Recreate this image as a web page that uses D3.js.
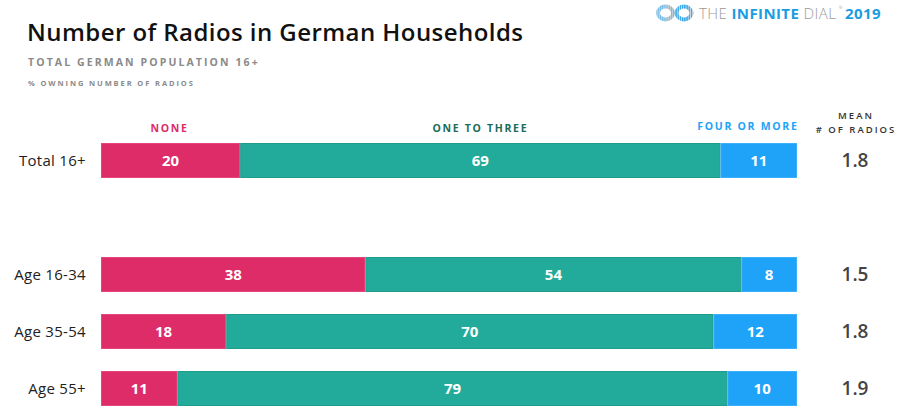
<!DOCTYPE html>
<html><head><meta charset="utf-8">
<script src="https://cdn.jsdelivr.net/npm/d3@7"></script>
<style>body{margin:0;background:#fff}svg{display:block}text{font-family:"Open Sans",sans-serif}</style>
</head><body>
<script>
const groups = ["Total 16+", "Age 16-34", "Age 35-54", "Age 55+"];
const seriesNames = ["NONE", "ONE TO THREE", "FOUR OR MORE"];
const none = [20, 38, 18, 11];
const oneToThree = [69, 54, 70, 79];
const fourOrMore = [11, 8, 12, 10];
const means = ["1.8", "1.5", "1.8", "1.9"];

const W = 900, H = 417;
const svg = d3.select("body").append("svg").attr("width", W).attr("height", H);

const colors = ["#de2c68", "#22ab9a", "#1ea3f8"];
const strokes = ["#e8457d", "#1f9c8c", "#3ab0fa"];
const headColors = ["#de2c68", "#1a6b5a", "#1ea3f8"];

const x = d3.scaleLinear().domain([0, 100]).range([101, 797]);
const yPos = [143, 257, 314, 371];
const barH = 35;

// Title
svg.append("text").attr("x", 27).attr("y", 41).attr("font-size", 24).attr("font-weight", 600)
  .attr("fill", "#111").text("Number of Radios in German Households").attr("textLength", 496);
svg.append("text").attr("x", 28).attr("y", 66).attr("font-size", 10.5).attr("font-weight", 700)
  .attr("fill", "#8a8a8a").attr("letter-spacing", 2.1).text("TOTAL GERMAN POPULATION 16+");
svg.append("text").attr("x", 28).attr("y", 86).attr("font-size", 7.5).attr("font-weight", 700)
  .attr("fill", "#8a8a8a").attr("letter-spacing", 1.9).text("% OWNING NUMBER OF RADIOS");

// Logo
const defs = svg.append("defs");
const pg = defs.append("pattern").attr("id", "stripeL").attr("patternUnits", "userSpaceOnUse")
  .attr("width", 2.2).attr("height", 30);
pg.append("rect").attr("width", 2.2).attr("height", 30).attr("fill", "#c9cfd3");
pg.append("rect").attr("width", 1).attr("height", 30).attr("fill", "#6cbdee");
const pb = defs.append("pattern").attr("id", "stripeR").attr("patternUnits", "userSpaceOnUse")
  .attr("width", 2.2).attr("height", 30);
pb.append("rect").attr("width", 2.2).attr("height", 30).attr("fill", "#d6dde2");
pb.append("rect").attr("width", 1.3).attr("height", 30).attr("fill", "#2fa6ec");
svg.append("ellipse").attr("cx", 665.5).attr("cy", 13).attr("rx", 7.5).attr("ry", 6.5)
  .attr("fill", "none").attr("stroke", "url(#stripeL)").attr("stroke-width", 4);
svg.append("ellipse").attr("cx", 684).attr("cy", 13).attr("rx", 7.5).attr("ry", 6.5)
  .attr("fill", "none").attr("stroke", "url(#stripeR)").attr("stroke-width", 4);
const lt = svg.append("text").attr("x", 699).attr("y", 19).attr("font-size", 15).attr("letter-spacing", 0.4);
lt.append("tspan").attr("fill", "#9a9a9a").attr("font-weight", 300).text("THE ");
lt.append("tspan").attr("fill", "#1a9de0").attr("font-weight", 700).text("INFINITE ");
lt.append("tspan").attr("fill", "#9a9a9a").attr("font-weight", 300).text("DIAL");
svg.append("text").attr("x", 839).attr("y", 9).attr("font-size", 4).attr("fill", "#9a9a9a").text("®");
svg.append("text").attr("x", 845).attr("y", 19).attr("font-size", 15).attr("font-weight", 700)
  .attr("letter-spacing", 0.4).attr("fill", "#1a9de0").text("2019");

// series headers
const totalStack = [none[0], oneToThree[0], fourOrMore[0]];
let cum = 0;
const headX = [];
totalStack.forEach((v) => { headX.push([x(cum), x(cum + v)]); cum += v; });
const hdr = (xx, yy, anchor, i) => svg.append("text").attr("x", xx).attr("y", yy).attr("text-anchor", anchor)
  .attr("font-size", 10.5).attr("font-weight", 700).attr("letter-spacing", 1.7).attr("fill", headColors[i]).text(seriesNames[i]);
hdr((headX[0][0] + headX[0][1]) / 2 - 1, 132, "middle", 0);
hdr((headX[1][0] + headX[1][1]) / 2, 132, "middle", 1);
hdr(x(100) + 1.5, 130, "end", 2);

// mean header
svg.append("text").attr("x", 856).attr("y", 119).attr("text-anchor", "middle").attr("font-size", 9.5)
  .attr("font-weight", 600).attr("letter-spacing", 2).attr("fill", "#333").text("MEAN");
svg.append("text").attr("x", 856).attr("y", 133).attr("text-anchor", "middle").attr("font-size", 9.5)
  .attr("font-weight", 600).attr("letter-spacing", 2).attr("fill", "#333").text("# OF RADIOS");

// bars
groups.forEach((g, gi) => {
  const vals = [none[gi], oneToThree[gi], fourOrMore[gi]];
  let c = 0;
  const y0 = yPos[gi];
  vals.forEach((v, si) => {
    svg.append("rect").attr("x", x(c) + 0.5).attr("y", y0 + 0.5)
      .attr("width", x(c + v) - x(c) - 1).attr("height", barH - 1)
      .attr("fill", colors[si]).attr("stroke", strokes[si]).attr("stroke-width", 1);
    svg.append("text").attr("x", (x(c) + x(c + v)) / 2).attr("y", y0 + barH / 2 + 5.5)
      .attr("text-anchor", "middle").attr("font-size", 15).attr("font-weight", 700)
      .attr("fill", "#fff").text(v);
    c += v;
  });
  svg.append("text").attr("x", 86).attr("y", y0 + barH / 2 + 5.5).attr("text-anchor", "end")
    .attr("font-size", 15).attr("letter-spacing", 0.3).attr("fill", "#222").text(g);
  svg.append("text").attr("x", 855).attr("y", y0 + barH / 2 + 6.5).attr("text-anchor", "middle")
    .attr("font-size", 19).attr("font-weight", 600).attr("fill", "#444").text(means[gi]);
});
</script>
</body></html>
